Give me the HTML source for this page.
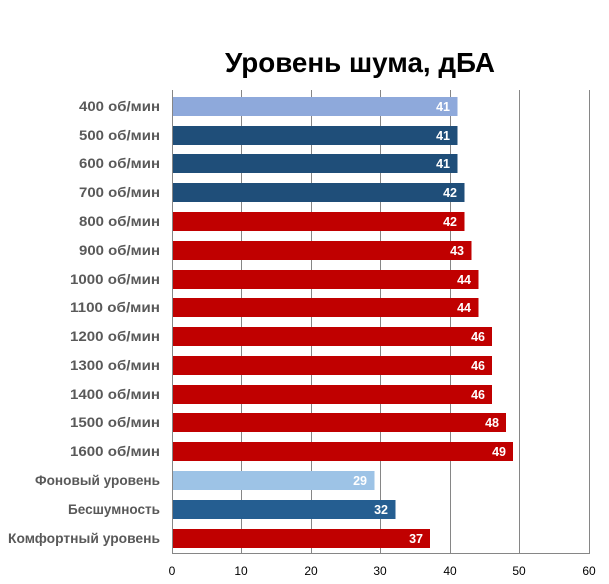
<!DOCTYPE html>
<html><head><meta charset="utf-8"><style>body{margin:0;background:#fff}svg{display:block}</style></head>
<body>
<svg width="609" height="584" xmlns="http://www.w3.org/2000/svg" font-family="Liberation Sans, DejaVu Sans, sans-serif">
<rect width="609" height="584" fill="#fff"/>
<text x="360" y="72" font-size="28" font-weight="bold" text-anchor="middle" textLength="270" lengthAdjust="spacingAndGlyphs" fill="#000">Уровень шума, дБА</text>
<g stroke="#868686" stroke-width="1">
<line x1="241.5" y1="90" x2="241.5" y2="553"/>
<line x1="311.5" y1="90" x2="311.5" y2="553"/>
<line x1="380.5" y1="90" x2="380.5" y2="553"/>
<line x1="450.5" y1="90" x2="450.5" y2="553"/>
<line x1="519.5" y1="90" x2="519.5" y2="553"/>
<line x1="589.5" y1="90" x2="589.5" y2="553"/>
<line x1="172.5" y1="90" x2="172.5" y2="553"/>
<line x1="172" y1="553.5" x2="590" y2="553.5"/>
</g>
<g font-size="12" fill="#000" text-anchor="middle">
<text x="172" y="575">0</text><text x="241" y="575">10</text><text x="311" y="575">20</text><text x="380" y="575">30</text><text x="450" y="575">40</text><text x="519" y="575">50</text><text x="589" y="575">60</text>
</g>
<g>
<rect x="173" y="97" width="284.5" height="19" fill="#8EA9DB"/>
<rect x="173" y="126" width="284.5" height="19" fill="#1F4E79"/>
<rect x="173" y="154" width="284.5" height="19" fill="#1F4E79"/>
<rect x="173" y="183" width="291.5" height="19" fill="#1F4E79"/>
<rect x="173" y="212" width="291.5" height="19" fill="#C00000"/>
<rect x="173" y="241" width="298.5" height="19" fill="#C00000"/>
<rect x="173" y="270" width="305.5" height="19" fill="#C00000"/>
<rect x="173" y="298" width="305.5" height="19" fill="#C00000"/>
<rect x="173" y="327" width="319" height="19" fill="#C00000"/>
<rect x="173" y="356" width="319" height="19" fill="#C00000"/>
<rect x="173" y="385" width="319" height="19" fill="#C00000"/>
<rect x="173" y="413" width="333" height="19" fill="#C00000"/>
<rect x="173" y="442" width="340" height="19" fill="#C00000"/>
<rect x="173" y="471" width="201.5" height="19" fill="#9DC3E6"/>
<rect x="173" y="500" width="222.5" height="19" fill="#255E91"/>
<rect x="173" y="529" width="257" height="19" fill="#C00000"/>
</g>
<g font-size="12.5" font-weight="bold" fill="#fff" text-anchor="end">
<text x="450" y="111">41</text><text x="450" y="140">41</text><text x="450" y="168">41</text><text x="457" y="197">42</text>
<text x="457" y="226">42</text><text x="464" y="255">43</text><text x="471" y="284">44</text><text x="471" y="312">44</text>
<text x="485" y="341">46</text><text x="485" y="370">46</text><text x="485" y="399">46</text><text x="499" y="427">48</text>
<text x="506" y="456">49</text><text x="367" y="485">29</text><text x="388" y="514">32</text><text x="423" y="543">37</text>
</g>
<g font-size="13.5" font-weight="bold" fill="#595959" text-anchor="end">
<text x="160" y="111" textLength="81" lengthAdjust="spacingAndGlyphs">400 об/мин</text><text x="160" y="140" textLength="81" lengthAdjust="spacingAndGlyphs">500 об/мин</text><text x="160" y="168" textLength="81" lengthAdjust="spacingAndGlyphs">600 об/мин</text><text x="160" y="197" textLength="81" lengthAdjust="spacingAndGlyphs">700 об/мин</text>
<text x="160" y="226" textLength="81" lengthAdjust="spacingAndGlyphs">800 об/мин</text><text x="160" y="255" textLength="81" lengthAdjust="spacingAndGlyphs">900 об/мин</text><text x="160" y="284" textLength="90" lengthAdjust="spacingAndGlyphs">1000 об/мин</text><text x="160" y="312" textLength="90" lengthAdjust="spacingAndGlyphs">1100 об/мин</text>
<text x="160" y="341" textLength="90" lengthAdjust="spacingAndGlyphs">1200 об/мин</text><text x="160" y="370" textLength="90" lengthAdjust="spacingAndGlyphs">1300 об/мин</text><text x="160" y="399" textLength="90" lengthAdjust="spacingAndGlyphs">1400 об/мин</text><text x="160" y="427" textLength="90" lengthAdjust="spacingAndGlyphs">1500 об/мин</text>
<text x="160" y="456" textLength="90" lengthAdjust="spacingAndGlyphs">1600 об/мин</text><text x="160" y="485" textLength="125" lengthAdjust="spacingAndGlyphs">Фоновый уровень</text><text x="160" y="514" textLength="92" lengthAdjust="spacingAndGlyphs">Бесшумность</text><text x="160" y="543" textLength="152" lengthAdjust="spacingAndGlyphs">Комфортный уровень</text>
</g>
</svg>
</body></html>
